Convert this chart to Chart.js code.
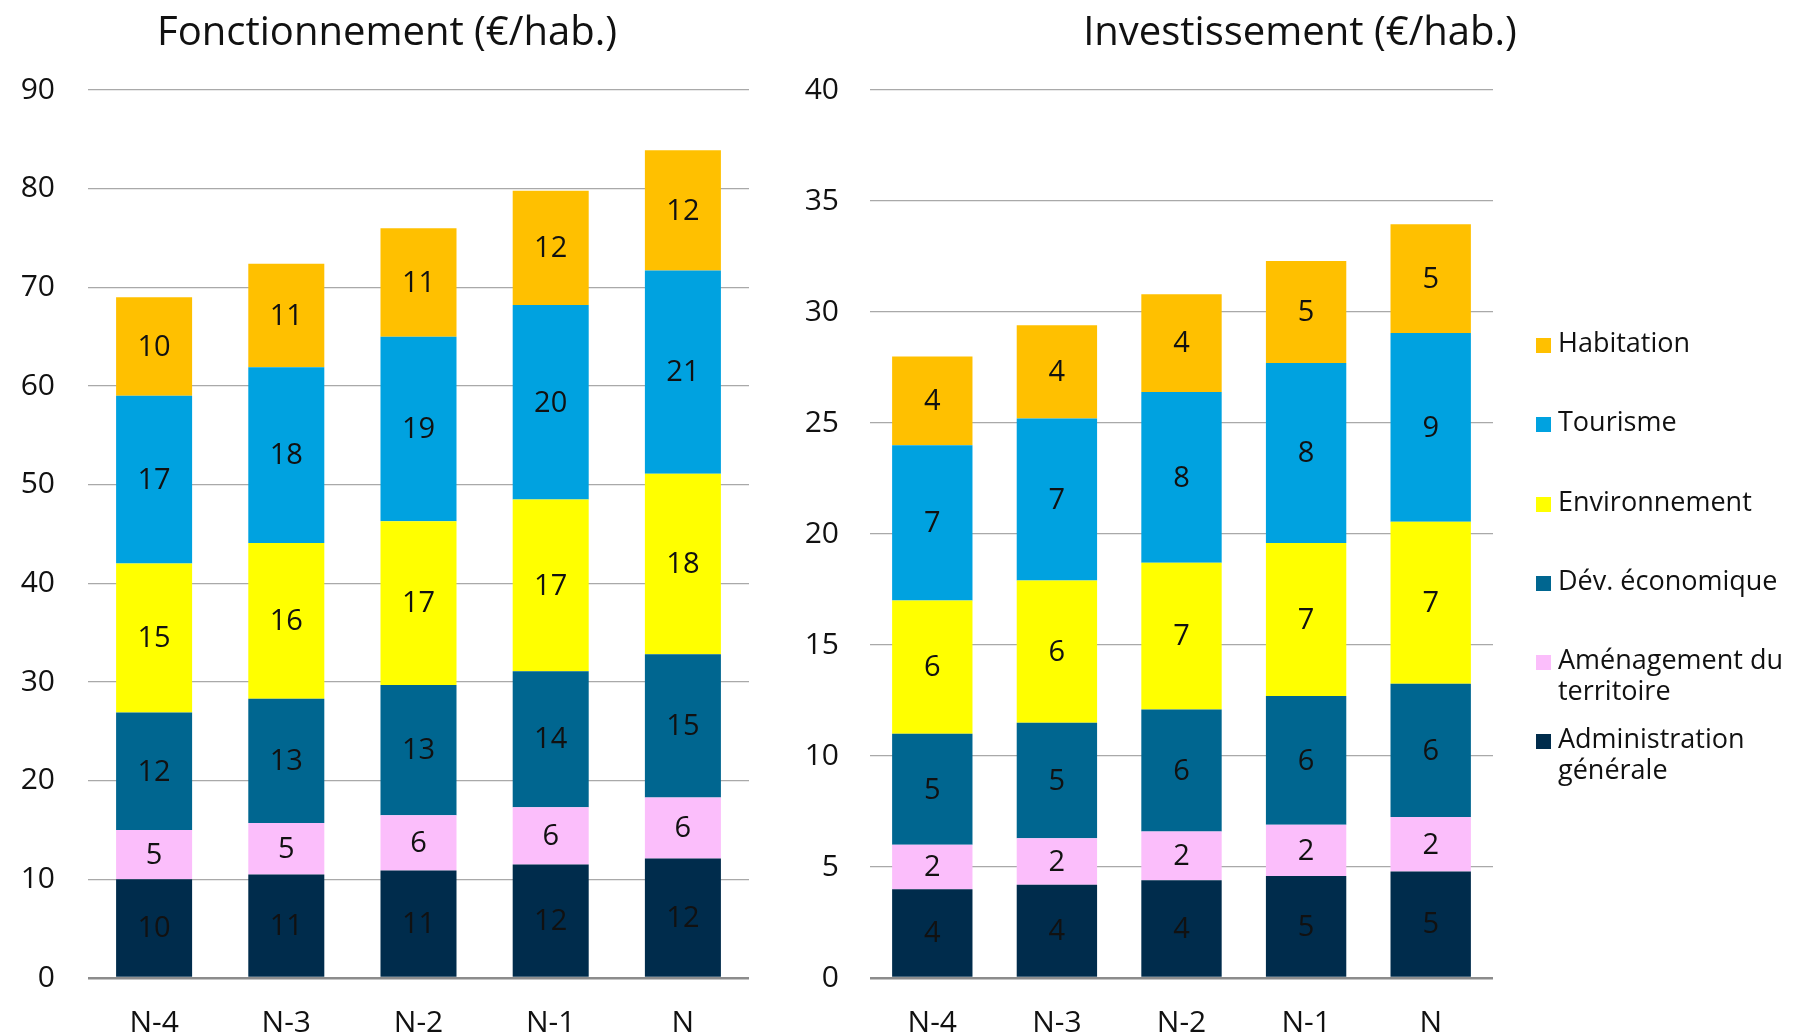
<!DOCTYPE html>
<html lang="fr">
<head>
<meta charset="utf-8">
<title>Fonctionnement / Investissement (€/hab.)</title>
<script src="https://cdn.jsdelivr.net/npm/chart.js@4"></script>
<style>
  html, body { margin: 0; padding: 0; background: #fff; }
  body { width: 1800px; height: 1034px; position: relative; overflow: hidden; font-family: 'Open Sans', sans-serif; }
  #chart-fonct { position: absolute; left: 0; top: 0; }
  #chart-invest { position: absolute; left: 800px; top: 0; }
  #legend { position: absolute; left: 1536px; top: 0; width: 264px; height: 1034px; }
  .lg-item { position: absolute; left: 0; display: flex; align-items: flex-start; }
  .lg-box { width: 15px; height: 15px; margin-top: 12px; flex: none; }
  .lg-text { margin-left: 7px; width: 250px; font-size: 27px; line-height: 31px; color: #111; }
</style>
</head>
<body>
<canvas id="chart-fonct" width="774" height="1034"></canvas>
<canvas id="chart-invest" width="1000" height="1034"></canvas>
<div id="legend"></div>

<script>
// --- données ---
const categories = ['N-4', 'N-3', 'N-2', 'N-1', 'N'];

const seriesNames = ['Administration générale', 'Aménagement du territoire', 'Dév. économique', 'Environnement', 'Tourisme', 'Habitation'];
const seriesColors = ['#002c4c', '#fbbefb', '#006690', '#ffff00', '#00a2e0', '#ffc000'];

// Fonctionnement (€/hab.)
const adminF = [10.0, 10.5, 10.9, 11.5, 12.1];
const amenF  = [5.0, 5.2, 5.6, 5.8, 6.2];
const devF   = [11.9, 12.6, 13.2, 13.8, 14.5];
const envF   = [15.1, 15.8, 16.6, 17.4, 18.3];
const tourF  = [17.0, 17.8, 18.7, 19.7, 20.6];
const habF   = [10.0, 10.5, 11.0, 11.6, 12.2];

// Investissement (€/hab.)
const adminI = [4.0, 4.2, 4.4, 4.6, 4.8];
const amenI  = [2.0, 2.1, 2.2, 2.3, 2.45];
const devI   = [5.0, 5.2, 5.5, 5.8, 6.0];
const envI   = [6.0, 6.4, 6.6, 6.9, 7.3];
const tourI  = [7.0, 7.3, 7.7, 8.1, 8.5];
const habI   = [4.0, 4.2, 4.4, 4.6, 4.9];

const yTicksF = [0, 10, 20, 30, 40, 50, 60, 70, 80, 90];
const yTicksI = [0, 5, 10, 15, 20, 25, 30, 35, 40];

const FONT = "'Open Sans', sans-serif";

// valeurs arrondies au centre de chaque segment
const barLabels = {
  id: 'barLabels',
  afterDatasetsDraw(chart) {
    const ctx = chart.ctx;
    ctx.save();
    ctx.font = '29px ' + FONT;
    ctx.fillStyle = '#111';
    ctx.textAlign = 'center';
    ctx.textBaseline = 'middle';
    chart.data.datasets.forEach((ds, i) => {
      const meta = chart.getDatasetMeta(i);
      meta.data.forEach((bar, j) => {
        const y = (bar.y + bar.base) / 2;
        ctx.fillText(String(Math.round(ds.data[j])), bar.x, y + 1);
      });
    });
    ctx.restore();
  }
};

// titre centré sur tout le bloc graphique (légende comprise pour l'investissement)
const blockTitle = {
  id: 'blockTitle',
  afterDraw(chart, args, opts) {
    const ctx = chart.ctx;
    ctx.save();
    ctx.font = '40px ' + FONT;
    ctx.fillStyle = '#111';
    ctx.textAlign = 'center';
    ctx.textBaseline = 'alphabetic';
    ctx.fillText(opts.text, opts.x, 45);
    ctx.restore();
  }
};

function buildDatasets(values, barPct) {
  return values.map((data, i) => ({
    label: seriesNames[i],
    data: data,
    backgroundColor: seriesColors[i],
    borderWidth: 0,
    barPercentage: barPct,
    categoryPercentage: 1.0
  }));
}

function makeChart(id, title, values, yTicks, opts) {
  return new Chart(document.getElementById(id), {
    type: 'bar',
    data: {
      labels: categories,
      datasets: buildDatasets(values, opts.barPct)
    },
    plugins: [barLabels, blockTitle],
    options: {
      responsive: false,
      animation: false,
      layout: { padding: { left: 0, right: opts.padRight, top: 90, bottom: 0 } },
      plugins: {
        legend: { display: false },
        tooltip: { enabled: false },
        title: { display: false },
        blockTitle: { text: title, x: opts.titleX }
      },
      scales: {
        x: {
          stacked: true,
          grid: { display: false },
          border: { display: false },
          ticks: { color: '#111', padding: 19, font: { family: FONT, size: 30 } },
          afterFit: (scale) => { scale.height = 56; }
        },
        y: {
          stacked: true,
          min: yTicks[0],
          max: yTicks[yTicks.length - 1],
          afterBuildTicks: (scale) => { scale.ticks = yTicks.map(v => ({ value: v })); },
          afterFit: (scale) => { scale.width = opts.axisWidth; },
          border: { display: false },
          grid: {
            drawTicks: false,
            color: (c) => c.tick && c.tick.value === 0 ? '#8c8c8c' : '#a9a9a9',
            lineWidth: (c) => c.tick && c.tick.value === 0 ? 2.5 : 1.3
          },
          ticks: { color: '#111', padding: opts.tickPad, font: { family: FONT, size: 30 } }
        }
      }
    }
  });
}

makeChart('chart-fonct', 'Fonctionnement (€/hab.)',
  [adminF, amenF, devF, envF, tourF, habF], yTicksF,
  { barPct: 0.575, padRight: 25, axisWidth: 88, tickPad: 33, titleX: 387 });

makeChart('chart-invest', 'Investissement (€/hab.)',
  [adminI, amenI, devI, envI, tourI, habI], yTicksI,
  { barPct: 0.645, padRight: 307, axisWidth: 70, tickPad: 31, titleX: 500 });

// --- légende (ordre inversé : Habitation en haut) ---
const legendTops = [326, 405, 485, 564, 643, 722];
const legend = document.getElementById('legend');
seriesNames.slice().reverse().forEach((name, k) => {
  const idx = seriesNames.length - 1 - k;
  const item = document.createElement('div');
  item.className = 'lg-item';
  item.style.top = legendTops[k] + 'px';
  item.innerHTML = '<div class="lg-box" style="background:' + seriesColors[idx] + '"></div>' +
                   '<div class="lg-text">' + name + '</div>';
  legend.appendChild(item);
});
</script>
</body>
</html>
